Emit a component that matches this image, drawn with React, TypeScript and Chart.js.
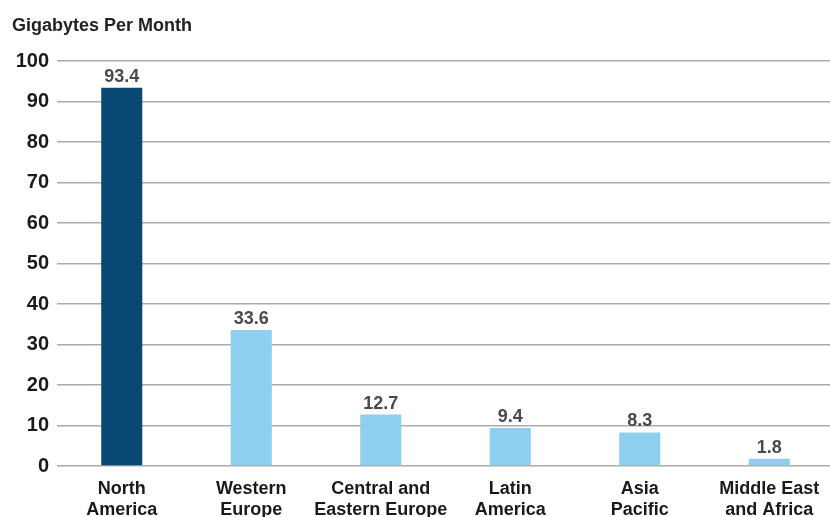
import React, { useEffect, useRef } from "react";
import { Chart, registerables } from "chart.js";

Chart.register(...registerables);

const categories: string[][] = [
  ["North", "America"],
  ["Western", "Europe"],
  ["Central and", "Eastern Europe"],
  ["Latin", "America"],
  ["Asia", "Pacific"],
  ["Middle East", "and Africa"],
];
const values: number[] = [93.4, 33.6, 12.7, 9.4, 8.3, 1.8];
const valueLabels: string[] = ["93.4", "33.6", "12.7", "9.4", "8.3", "1.8"];
const barColors: string[] = ["#0a4874", "#8dcfee", "#8dcfee", "#8dcfee", "#8dcfee", "#8dcfee"];
const yTitle = "Gigabytes Per Month";
const yMin = 0;
const yMax = 100;
const yStep = 10;

const FONT = "'Liberation Sans', Arial, sans-serif";

const labelPlugin = {
  id: "valueLabels",
  afterDatasetsDraw(chart: any) {
    const ctx = chart.ctx;
    const meta = chart.getDatasetMeta(0);
    ctx.save();
    ctx.font = `bold 18px ${FONT}`;
    ctx.fillStyle = "#4a4a4a";
    ctx.textAlign = "center";
    ctx.textBaseline = "alphabetic";
    meta.data.forEach((bar: any, i: number) => {
      ctx.fillText(valueLabels[i], bar.x, bar.y - 6);
    });
    ctx.restore();
  },
};

const titlePlugin = {
  id: "yTitle",
  afterDraw(chart: any) {
    const ctx = chart.ctx;
    ctx.save();
    ctx.font = `bold 18px ${FONT}`;
    ctx.fillStyle = "#222";
    ctx.textAlign = "left";
    ctx.textBaseline = "alphabetic";
    ctx.fillText(yTitle, 12, 31);
    ctx.restore();
  },
};

export default function App() {
  const ref = useRef<HTMLCanvasElement>(null);
  useEffect(() => {
    document.body.style.margin = "0";
    const chart = new Chart(ref.current!, {
      type: "bar",
      data: {
        labels: categories,
        datasets: [
          {
            data: values,
            backgroundColor: barColors,
            barPercentage: 0.317,
            categoryPercentage: 1,
          },
        ],
      },
      options: {
        animation: false,
        responsive: false,
        maintainAspectRatio: false,
        layout: { padding: { top: 61, right: 0, left: 0, bottom: 0 } },
        plugins: { legend: { display: false }, tooltip: { enabled: false } },
        scales: {
          x: {
            grid: { display: false, drawTicks: false },
            border: { display: false },
            ticks: {
              color: "#1a1a1a",
              font: { family: FONT, size: 18, weight: "bold", lineHeight: 1.2 },
              padding: 12,
              maxRotation: 0,
              autoSkip: false,
            },
            afterFit(scale: any) {
              scale.height = 51;
            },
          },
          y: {
            min: yMin,
            max: yMax,
            grid: { color: "#ababab", lineWidth: 1.5, drawTicks: false },
            border: { display: false },
            ticks: {
              stepSize: yStep,
              color: "#1a1a1a",
              font: { family: FONT, size: 20, weight: "bold" },
              padding: 8,
            },
            afterFit(scale: any) {
              scale.width = 57;
            },
          },
        },
      },
      plugins: [labelPlugin, titlePlugin],
    });
    return () => chart.destroy();
  }, []);
  return (
    <div style={{ position: "fixed", left: 0, top: 0, width: 830, height: 517, overflow: "hidden" }}>
      <canvas ref={ref} width={834} height={517} />
    </div>
  );
}
